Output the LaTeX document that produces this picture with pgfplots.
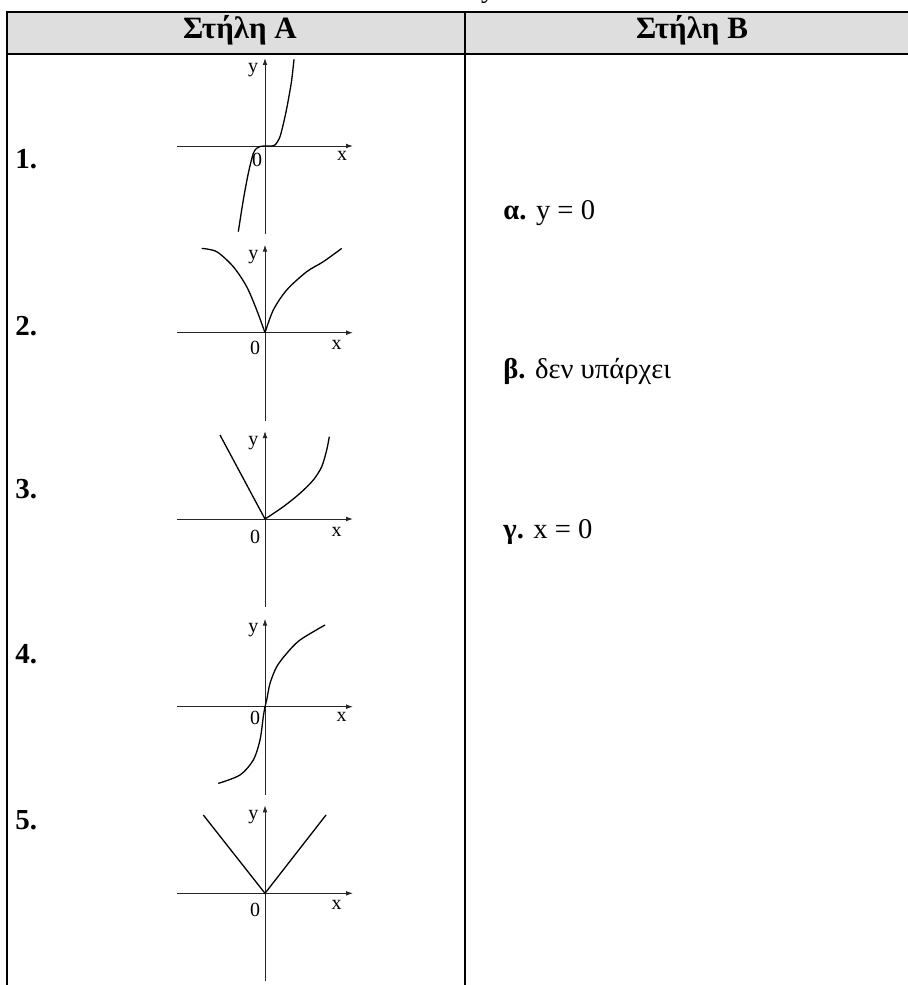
\documentclass[border=0pt]{standalone}
\usepackage{fontspec}
\setmainfont{Liberation Serif}
\usepackage{pgfplots}
\pgfplotsset{compat=1.18}
\usetikzlibrary{arrows.meta}
\definecolor{hdr}{HTML}{DEDEDE}

% one small sketch: origin at the axis centre, 1 unit = 1 px of the reference
\pgfplotsset{
  minigraph/.style={
    anchor=center, x=0.5pt, y=0.5pt,
    xmin=-88, xmax=88, ymin=-88, ymax=88,
    axis lines=middle, xtick=\empty, ytick=\empty,
    axis line style={black!85, line width=0.5pt, -{Latex[length=3.5pt,width=2.4pt]}},
    clip=false,
    every axis plot/.append style={black, line width=0.65pt, mark=none},
  },
}
% labels y, x, 0 at axis positions
\newcommand{\axlabels}[6]{%
  \node[inner sep=0, font=\fontsize{10}{12}\selectfont] at (axis cs:#1,#2) {y};
  \node[inner sep=0, font=\fontsize{10}{12}\selectfont] at (axis cs:#3,#4) {x};
  \node[inner sep=0, font=\fontsize{10}{12}\selectfont] at (axis cs:#5,#6) {0};
}

\begin{document}
\begin{tikzpicture}[x=0.5pt,y=0.5pt]
\path[use as bounding box] (0,0) rectangle (908,-985);
\clip (0,0) rectangle (908,-985);

% table frame
\fill[hdr] (7,-12) rectangle (919,-54);
\draw[line width=1pt] (6,-12) -- (920,-12) (6,-54) -- (920,-54);
\draw[line width=1pt] (7,-12) -- (7,-990) (465,-12) -- (465,-990) (919,-12) -- (919,-990);

\node[font=\fontsize{14}{16}\selectfont, anchor=base] at (488,3) {y};
\node[font=\bfseries\fontsize{15.5}{18}\selectfont, anchor=base] at (240,-39) {Στήλη Α};
\node[font=\bfseries\fontsize{15.5}{18}\selectfont, anchor=base] at (692,-39) {Στήλη Β};

% item numbers
\begin{scope}[every node/.style={anchor=base west, inner sep=0, font=\bfseries\fontsize{14.5}{17}\selectfont}]
\node at (15,-168) {1.};
\node at (15,-335) {2.};
\node at (15,-498) {3.};
\node at (15,-663) {4.};
\node at (15,-829) {5.};
\end{scope}

% column B
\begin{scope}[every node/.style={anchor=base west, inner sep=0, font=\fontsize{14.3}{17}\selectfont}]
\node at (503,-219) {\textbf{α.} y = 0};
\node at (503,-378) {\textbf{β.} δεν υπάρχει};
\node at (503,-538) {\textbf{γ.} x = 0};
\end{scope}

% 1
\begin{axis}[minigraph, at={(132.5pt,-73pt)}]
\addplot[black, smooth, tension=0.45] coordinates {
  (-26.7,-85.7) (-21.7,-54) (-16.7,-27.3) (-11.7,-7.3) (-8.3,-2.3)
  (-5,-0.5) (0,0) (5,0) (10,1) (15,9.3) (20,29.3) (23.3,46) (26.7,66) (29,86.7)};
\axlabels{-12}{76}{77}{-10}{-8}{-14}
\end{axis}

% 2
\begin{axis}[minigraph, at={(132.5pt,-166.35pt)}]
\addplot[black, smooth] coordinates {
  (-63.3,84.3) (-48.3,81) (-31.7,66) (-18.3,46) (-8.3,22.7) (0,0)};
\addplot[black, smooth] coordinates {
  (0,0) (8.3,22.7) (21.7,42.7) (41.7,61) (58.3,71) (76.7,84.3)};
\axlabels{-11.7}{76}{71.7}{-12.3}{-10}{-15.7}
\end{axis}

% 3
\begin{axis}[minigraph, at={(132.5pt,-259.5pt)}]
\addplot[black] coordinates {(-45,84) (0,0)};
\addplot[black, smooth] coordinates {
  (0,0) (18.3,12.3) (35,25.7) (48.3,39) (56.7,52.3) (61.7,69) (64.3,82.3)};
\axlabels{-11.7}{75.7}{71.7}{-12.7}{-10}{-17.7}
\end{axis}

% 4
\begin{axis}[minigraph, at={(132.5pt,-353.35pt)}]
\addplot[black, smooth] coordinates {
  (-46.7,-76.7) (-25,-68.3) (-11.7,-53.3) (-5,-33.3) (-1.7,-10) (0,0)
  (1.7,6.7) (5,23.3) (11.7,40) (21.7,53.3) (35,66.7) (60,81.7)};
\axlabels{-11.7}{76.7}{76.7}{-10}{-10}{-11.7}
\end{axis}

% 5
\begin{axis}[minigraph, at={(132.5pt,-446.65pt)}]
\addplot[black] coordinates {(-61.7,78.3) (0,0) (61,78.3)};
\axlabels{-11.7}{76.7}{71.7}{-11.7}{-10}{-16.7}
\end{axis}
\end{tikzpicture}
\end{document}
